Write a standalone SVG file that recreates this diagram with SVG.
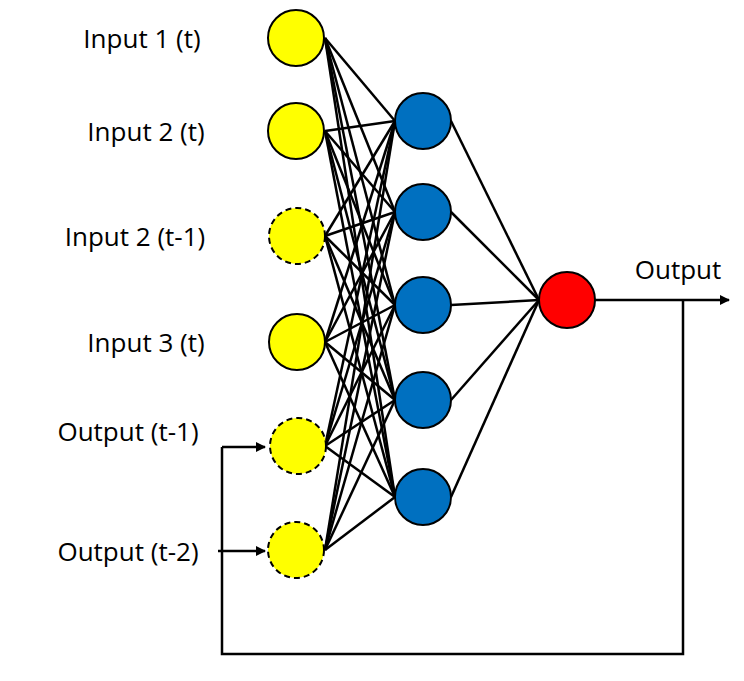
<svg xmlns="http://www.w3.org/2000/svg" width="744" height="681" viewBox="0 0 744 681">
<style>
.t{font-family:"Open Sans","Liberation Sans",sans-serif;font-size:26px;fill:#000}
.in{fill:#ffff00;stroke:#000;stroke-width:2}
.d{stroke-dasharray:6,4}
.h{fill:#0070c0;stroke:#000;stroke-width:2}
.o{fill:#ff0000;stroke:#000;stroke-width:2}
.c line,.c path{stroke:#000;stroke-width:2.5;fill:none}
</style>
<defs><marker id="a" markerWidth="10" markerHeight="10" refX="9" refY="5" orient="auto" markerUnits="userSpaceOnUse"><path d="M0,0 L10,5 L0,10 z" fill="#000"/></marker></defs>
<g class="c" id="connectors">
<g id="ih">
<line x1="325" y1="38" x2="395" y2="121"/><line x1="325" y1="38" x2="395" y2="212"/><line x1="325" y1="38" x2="395" y2="305"/><line x1="325" y1="38" x2="395" y2="400"/><line x1="325" y1="38" x2="395" y2="497"/>
<line x1="325" y1="131" x2="395" y2="121"/><line x1="325" y1="131" x2="395" y2="212"/><line x1="325" y1="131" x2="395" y2="305"/><line x1="325" y1="131" x2="395" y2="400"/><line x1="325" y1="131" x2="395" y2="497"/>
<line x1="325" y1="236" x2="395" y2="121"/><line x1="325" y1="236" x2="395" y2="212"/><line x1="325" y1="236" x2="395" y2="305"/><line x1="325" y1="236" x2="395" y2="400"/><line x1="325" y1="236" x2="395" y2="497"/>
<line x1="325" y1="342" x2="395" y2="121"/><line x1="325" y1="342" x2="395" y2="212"/><line x1="325" y1="342" x2="395" y2="305"/><line x1="325" y1="342" x2="395" y2="400"/><line x1="325" y1="342" x2="395" y2="497"/>
<line x1="325" y1="446" x2="395" y2="121"/><line x1="325" y1="446" x2="395" y2="212"/><line x1="325" y1="446" x2="395" y2="305"/><line x1="325" y1="446" x2="395" y2="400"/><line x1="325" y1="446" x2="395" y2="497"/>
<line x1="325" y1="550" x2="395" y2="121"/><line x1="325" y1="550" x2="395" y2="212"/><line x1="325" y1="550" x2="395" y2="305"/><line x1="325" y1="550" x2="395" y2="400"/><line x1="325" y1="550" x2="395" y2="497"/>
</g>
<g id="ho">
<line x1="451" y1="121" x2="539" y2="300"/><line x1="451" y1="212" x2="539" y2="300"/><line x1="451" y1="305" x2="539" y2="300"/><line x1="451" y1="400" x2="539" y2="300"/><line x1="451" y1="497" x2="539" y2="300"/>
</g>
<line x1="595" y1="300" x2="729" y2="300" marker-end="url(#a)"/>
<path d="M683,300 V654 H222 V447"/>
<line x1="222" y1="447" x2="265" y2="447" marker-end="url(#a)"/>
<line x1="218" y1="551" x2="265" y2="551" marker-end="url(#a)"/>
</g>
<g id="in1"><circle class="in" cx="296" cy="38" r="28"/><text class="t" x="142" y="48" text-anchor="middle">Input 1 (t)</text></g>
<g id="in2"><circle class="in" cx="296" cy="131" r="28"/><text class="t" x="146" y="141" text-anchor="middle">Input 2 (t)</text></g>
<g id="in2b"><circle class="in d" cx="297" cy="236" r="28"/><text class="t" x="135" y="246" text-anchor="middle">Input 2 (t-1)</text></g>
<g id="in3"><circle class="in" cx="297" cy="342" r="28"/><text class="t" x="146" y="352" text-anchor="middle">Input 3 (t)</text></g>
<g id="o1"><circle class="in d" cx="298" cy="446" r="28"/><text class="t" x="128" y="441" text-anchor="middle">Output (t-1)</text></g>
<g id="o2"><circle class="in d" cx="296" cy="550" r="28"/><text class="t" x="128" y="561" text-anchor="middle">Output (t-2)</text></g>
<g id="h1"><circle class="h" cx="423" cy="121" r="28"/></g>
<g id="h2"><circle class="h" cx="423" cy="212" r="28"/></g>
<g id="h3"><circle class="h" cx="423" cy="305" r="28"/></g>
<g id="h4"><circle class="h" cx="423" cy="400" r="28"/></g>
<g id="h5"><circle class="h" cx="423" cy="497" r="28"/></g>
<g id="out"><circle class="o" cx="567" cy="300" r="28"/><text class="t" x="678" y="279" text-anchor="middle">Output</text></g>
</svg>
